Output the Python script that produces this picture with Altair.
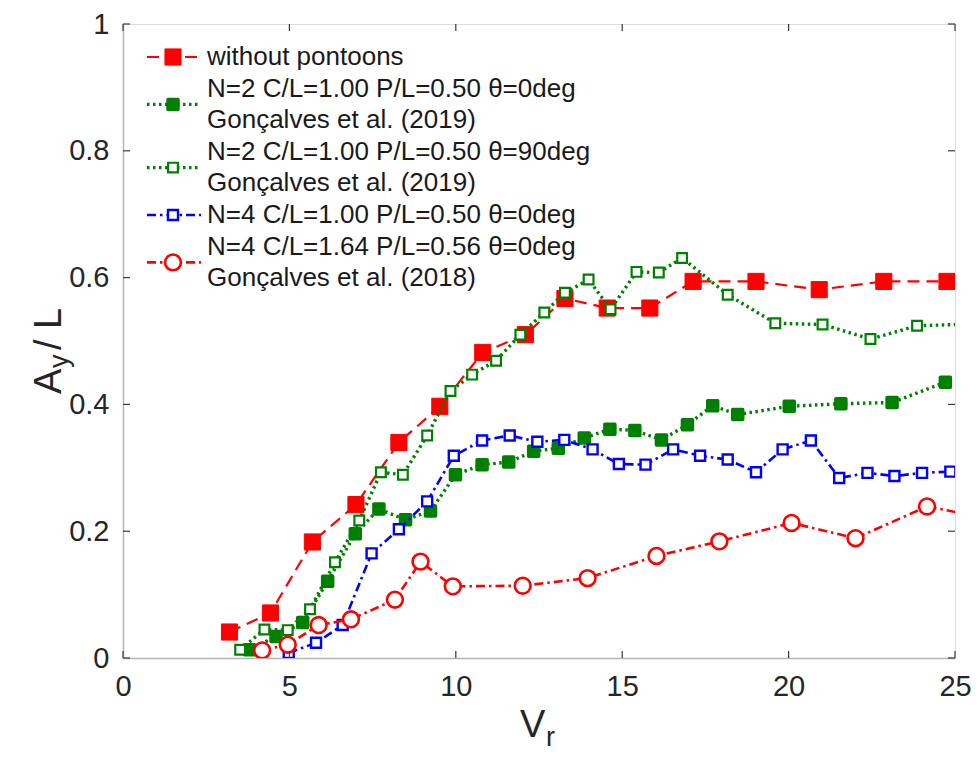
import altair as alt
import pandas as pd

# ---------------- data ----------------
wo_x = [3.2, 4.43, 5.69, 7.0, 8.29, 9.52, 10.81, 12.09, 13.28, 14.55, 15.83, 17.13, 19.02, 20.92, 22.86, 24.76]
wo_y = [0.041, 0.071, 0.183, 0.242, 0.340, 0.397, 0.482, 0.510, 0.567, 0.552, 0.552, 0.594, 0.594, 0.581, 0.594, 0.594]

g0_x = [3.8, 4.6, 5.4, 6.15, 6.98, 7.69, 8.49, 9.24, 9.99, 10.79, 11.59, 12.34, 13.08, 13.86, 14.63, 15.38,
        16.18, 16.96, 17.72, 18.47, 20.02, 21.57, 23.11, 24.71]
g0_y = [0.013, 0.034, 0.056, 0.121, 0.196, 0.235, 0.218, 0.232, 0.289, 0.305, 0.309, 0.326, 0.331, 0.347, 0.361, 0.359,
        0.344, 0.368, 0.398, 0.384, 0.397, 0.401, 0.403, 0.435]

g90_x = [3.52, 4.25, 4.95, 5.62, 6.37, 7.1, 7.75, 8.41, 9.14, 9.84, 10.49, 11.21, 11.94, 12.66, 13.28, 13.99,
         14.65, 15.43, 16.1, 16.8, 18.17, 19.6, 21.02, 22.46, 23.86, 25.6]
g90_y = [0.013, 0.045, 0.044, 0.077, 0.151, 0.217, 0.293, 0.289, 0.351, 0.421, 0.447, 0.469, 0.510, 0.545, 0.576, 0.597,
         0.550, 0.609, 0.608, 0.631, 0.573, 0.528, 0.526, 0.503, 0.524, 0.527]

b4_x = [4.98, 5.8, 6.6, 7.47, 8.29, 9.14, 9.94, 10.79, 11.62, 12.45, 13.26, 14.11, 14.9, 15.7, 16.53, 17.34,
        18.17, 19.02, 19.82, 20.67, 21.52, 22.37, 23.18, 24.01, 24.86]
b4_y = [0.008, 0.024, 0.052, 0.165, 0.203, 0.247, 0.319, 0.343, 0.351, 0.341, 0.344, 0.329, 0.306, 0.305, 0.329, 0.319,
        0.313, 0.293, 0.329, 0.343, 0.284, 0.292, 0.287, 0.292, 0.294]

r4_x = [4.18, 4.95, 5.88, 6.85, 8.17, 8.94, 9.91, 12.01, 13.96, 16.03, 17.92, 20.09, 22.01, 24.16, 26.0]
r4_y = [0.012, 0.021, 0.052, 0.061, 0.092, 0.152, 0.113, 0.114, 0.126, 0.161, 0.184, 0.213, 0.189, 0.239, 0.22]

x_ticks = [0, 5, 10, 15, 20, 25]
y_ticks = [0, 0.2, 0.4, 0.6, 0.8, 1]

legend_lines = [
    ["without pontoons"],
    ["N=2 C/L=1.00 P/L=0.50 \u03b8=0deg", "Gon\u00e7alves et al. (2019)"],
    ["N=2 C/L=1.00 P/L=0.50 \u03b8=90deg", "Gon\u00e7alves et al. (2019)"],
    ["N=4 C/L=1.00 P/L=0.50 \u03b8=0deg"],
    ["N=4 C/L=1.64 P/L=0.56 \u03b8=0deg", "Gon\u00e7alves et al. (2018)"],
]

# ---------------- styling ----------------
W, H = 832, 634
FONT = "Liberation Sans"
RED, GREEN, BLUE = "#ff0000", "#008000", "#0000ff"
TXT = "#262626"

series = [
    dict(x=wo_x, y=wo_y, color=RED, dash=[12, 7], lw=2.2, shape="square", size=260, filled=True, mw=1),
    dict(x=g0_x, y=g0_y, color=GREEN, dash=[2.5, 3.5], lw=3.4, shape="square", size=100, filled=True, mw=3.5),
    dict(x=g90_x, y=g90_y, color=GREEN, dash=[2.5, 3.5], lw=3.4, shape="square", size=95, filled=False, mw=2.2),
    dict(x=b4_x, y=b4_y, color=BLUE, dash=[9, 4, 2.5, 4], lw=2.6, shape="square", size=100, filled=False, mw=2.4),
    dict(x=r4_x, y=r4_y, color=RED, dash=[9, 4, 2.5, 4], lw=2.6, shape="circle", size=250, filled=False, mw=2.6),
]

xs = alt.Scale(domain=[0, 25], nice=False, zero=False)
ys = alt.Scale(domain=[0, 1], nice=False, zero=False)
ax_x = alt.Axis(values=x_ticks, ticks=False, grid=False, title=None, labelFont=FONT, labelFontSize=29,
                labelColor=TXT, labelPadding=14, domainColor="#b5b5b5", domainWidth=1.5,
                labelFlush=False)
ax_y = alt.Axis(values=y_ticks, ticks=False, grid=False, title=None, labelFont=FONT, labelFontSize=29,
                labelColor=TXT, labelPadding=14, domainColor="#b5b5b5", domainWidth=1.5,
                labelExpr="datum.value == 0 ? '0' : datum.value == 1 ? '1' : format(datum.value, '.1f')")


def marker(chart, s, **enc):
    clip = enc.pop("clip", False)
    if s["filled"]:
        m = chart.mark_point(shape=s["shape"], size=s["size"], filled=True, fill=s["color"], stroke=s["color"],
                             strokeWidth=s["mw"], strokeJoin="round", opacity=1, clip=clip)
    else:
        m = chart.mark_point(shape=s["shape"], size=s["size"], filled=True, fill="white", stroke=s["color"],
                             strokeWidth=s["mw"], opacity=1, clip=clip)
    return m.encode(**enc)


layers = []
for s in series:
    df = pd.DataFrame({"x": s["x"], "y": s["y"]})
    base = alt.Chart(df)
    layers.append(base.mark_line(color=s["color"], strokeWidth=s["lw"], strokeDash=s["dash"], clip=True).encode(
        x=alt.X("x:Q", scale=xs, axis=ax_x), y=alt.Y("y:Q", scale=ys, axis=ax_y)))
    layers.append(marker(base, s, clip=True, x=alt.X("x:Q", scale=xs, axis=ax_x), y=alt.Y("y:Q", scale=ys, axis=ax_y)))

# inward ticks on all four sides
TL = 7
xt = alt.Chart(pd.DataFrame({"x": x_ticks}))
yt = alt.Chart(pd.DataFrame({"y": y_ticks}))
tick_col = "#3a3a3a"
layers.append(xt.mark_rule(color=tick_col, strokeWidth=1.2).encode(
    x=alt.X("x:Q", scale=xs, axis=ax_x), y=alt.value(H), y2=alt.value(H - TL)))
layers.append(xt.mark_rule(color=tick_col, strokeWidth=1.2).encode(
    x=alt.X("x:Q", scale=xs, axis=ax_x), y=alt.value(0), y2=alt.value(TL)))
layers.append(yt.mark_rule(color=tick_col, strokeWidth=1.2).encode(
    y=alt.Y("y:Q", scale=ys, axis=ax_y), x=alt.value(0), x2=alt.value(TL)))
layers.append(yt.mark_rule(color=tick_col, strokeWidth=1.2).encode(
    y=alt.Y("y:Q", scale=ys, axis=ax_y), x=alt.value(W), x2=alt.value(W - TL)))

# legend (inside, upper left)
one = pd.DataFrame({"a": [0]})
LINE0, STEP = 33, 31.6
LEG_FS = 26
k = 0
for s, lines in zip(series, legend_lines):
    n = len(lines)
    ys_txt = [LINE0 + STEP * (k + i) for i in range(n)]
    ysym = sum(ys_txt) / n
    c = alt.Chart(one)
    layers.append(c.mark_rule(color=s["color"], strokeWidth=s["lw"], strokeDash=s["dash"]).encode(
        x=alt.value(24), x2=alt.value(78), y=alt.value(ysym)))
    layers.append(marker(c, s, x=alt.value(50), y=alt.value(ysym)))
    for t, yy in zip(lines, ys_txt):
        layers.append(c.mark_text(text=t, font=FONT, fontSize=LEG_FS, color="#1a1a1a", align="left",
                                  baseline="middle").encode(x=alt.value(84), y=alt.value(yy)))
    k += n

# axis titles with subscripts
c = alt.Chart(one)
layers.append(c.mark_text(text="V", font=FONT, fontSize=38, color=TXT, align="left",
                          baseline="alphabetic").encode(x=alt.value(397), y=alt.value(713)))
layers.append(c.mark_text(text="r", font=FONT, fontSize=27, color=TXT, align="left",
                          baseline="bottom").encode(x=alt.value(423), y=alt.value(728)))
layers.append(c.mark_text(text="A", font=FONT, fontSize=38, color=TXT, align="left", angle=270,
                          baseline="alphabetic").encode(x=alt.value(-62), y=alt.value(370)))
layers.append(c.mark_text(text="y", font=FONT, fontSize=27, color=TXT, align="left", angle=270,
                          baseline="alphabetic").encode(x=alt.value(-55), y=alt.value(344)))
layers.append(c.mark_text(text=" / L", font=FONT, fontSize=38, color=TXT, align="left", angle=270,
                          baseline="alphabetic").encode(x=alt.value(-62), y=alt.value(326)))

chart = alt.layer(*layers).properties(
    width=W, height=H,
    autosize=alt.AutoSizeParams(type="none"),
    padding={"left": 115, "top": 16, "right": 16, "bottom": 96},
).configure_view(stroke="#b5b5b5", strokeWidth=1.5).configure(background="white")

chart.save("out.html", embed_options={"renderer": "svg", "actions": False})
